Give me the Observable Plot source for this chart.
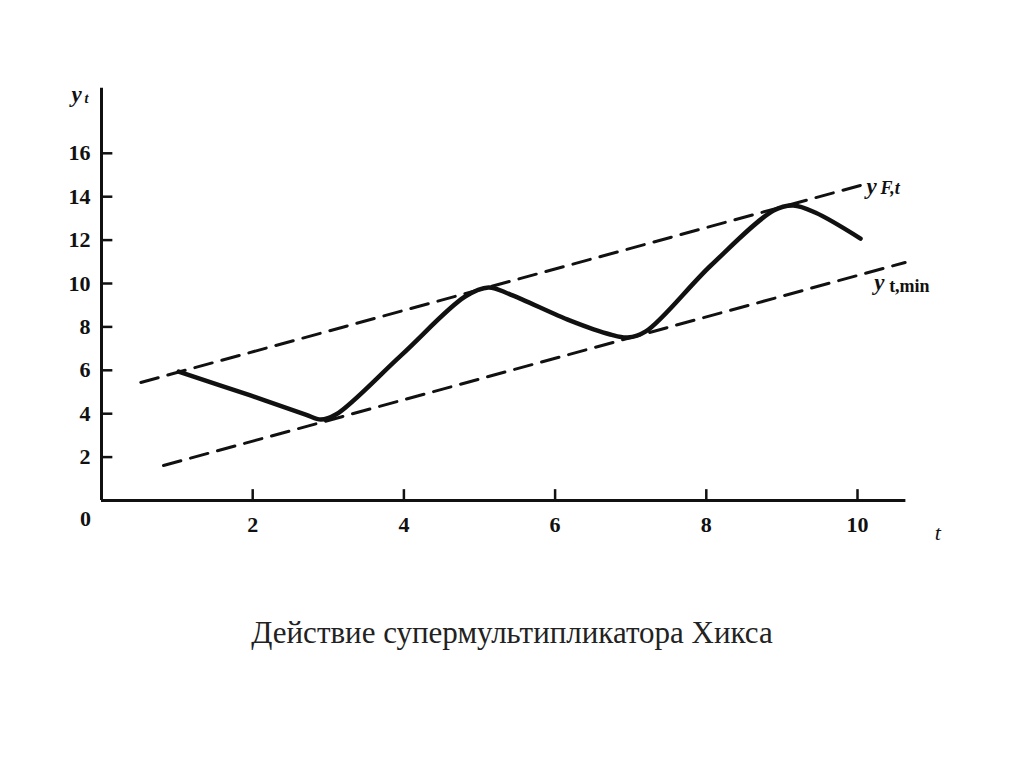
<!DOCTYPE html>
<html>
<head>
<meta charset="utf-8">
<script src="https://cdn.jsdelivr.net/npm/d3@7"></script>
<script src="https://cdn.jsdelivr.net/npm/@observablehq/plot@0.6"></script>
<style>
  html, body { margin: 0; padding: 0; background: #fff; }
  #chart svg { display: block; }
  #caption {
    font-family: "Liberation Serif", "DejaVu Serif", serif;
    font-size: 31px; color: #222; text-align: center;
    margin-top: 25px; width: 1024px;
  }
</style>
</head>
<body>
<div id="chart"></div>
<div id="caption">Действие супермультипликатора Хикса</div>
<script>
// Data
const xTicks = [2, 4, 6, 8, 10];
const yTicks = [2, 4, 6, 8, 10, 12, 14, 16];

// actual output y_t (solid curve)
const curveT = [1.02, 1.97, 2.70, 2.90, 3.10, 3.96, 4.81, 5.12, 5.41, 6.20, 6.73, 6.96, 7.20, 8.06, 8.89, 9.15, 9.44, 10.04];
const curveY = [5.94, 4.84, 3.96, 3.73, 3.96, 6.68, 9.40, 9.82, 9.49, 8.29, 7.65, 7.51, 7.79, 10.83, 13.36, 13.59, 13.27, 12.07];

// full-employment ceiling y_F,t (dashed)
const ceilT = [0.52, 10.08];
const ceilY = [5.44, 14.56];

// floor y_t,min (dashed)
const floorT = [0.82, 10.63];
const floorY = [1.61, 10.97];

const curve = curveT.map((t, i) => ({t, y: curveY[i]}));
const ceil = ceilT.map((t, i) => ({t, y: ceilY[i]}));
const floor = floorT.map((t, i) => ({t, y: floorY[i]}));

const serif = "'Liberation Serif', 'DejaVu Serif', serif";

const chart = Plot.plot({
  width: 1024,
  height: 590,
  marginLeft: 101,
  marginRight: 15.8,
  marginTop: 66,
  marginBottom: 90,
  x: {domain: [0, 12], axis: null},
  y: {domain: [0, 20], axis: null},
  style: {fontFamily: serif, color: "#111", background: "#fff"},
  marks: [
    // axes
    Plot.ruleX([0], {y1: 0, y2: 19, stroke: "#111", strokeWidth: 3}),
    Plot.ruleY([0], {x1: 0, x2: 10.64, stroke: "#111", strokeWidth: 3}),
    // tick marks (inward)
    Plot.ruleY(yTicks, {y: d => d, x1: 0, x2: 0.15, stroke: "#111", strokeWidth: 2.5}),
    Plot.ruleX(xTicks, {x: d => d, y1: 0, y2: 0.5, stroke: "#111", strokeWidth: 2.5}),
    // tick labels
    Plot.text(yTicks, {x: 0, y: d => d, text: d => String(d), textAnchor: "end", dx: -11, fontSize: 22, fontWeight: "bold", fill: "#111"}),
    Plot.text(xTicks, {x: d => d, y: 0, text: d => String(d), dy: 24, fontSize: 22, fontWeight: "bold", fill: "#111"}),
    Plot.text([0], {x: 0, y: 0, text: d => String(d), dx: -16, dy: 18, fontSize: 22, fontWeight: "bold", fill: "#111"}),
    // axis names
    Plot.text(["y"], {x: 0, y: 19, text: d => d, textAnchor: "start", dx: -30, dy: 6, fontSize: 23, fontStyle: "italic", fontWeight: "bold", fill: "#111"}),
    Plot.text(["t"], {x: 0, y: 19, text: d => d, textAnchor: "start", dx: -17, dy: 10, fontSize: 14, fontStyle: "italic", fontWeight: "bold", fill: "#111"}),
    Plot.text(["t"], {x: 10.64, y: 0, text: d => d, dx: 32, dy: 32, fontSize: 22, fontStyle: "italic", fill: "#111"}),
    // dashed bounds
    Plot.line(ceil, {x: "t", y: "y", stroke: "#111", strokeWidth: 3, strokeDasharray: "18,10"}),
    Plot.line(floor, {x: "t", y: "y", stroke: "#111", strokeWidth: 3, strokeDasharray: "18,10"}),
    // actual curve
    Plot.line(curve, {x: "t", y: "y", stroke: "#111", strokeWidth: 4.5, curve: "catmull-rom"}),
    // line labels
    Plot.text([ceil[1]], {x: "t", y: "y", text: () => "y", textAnchor: "start", dx: 3, dy: 2, fontSize: 23, fontStyle: "italic", fontWeight: "bold", fill: "#111"}),
    Plot.text([ceil[1]], {x: "t", y: "y", text: () => "F,t", textAnchor: "start", dx: 17, dy: 4, fontSize: 18, fontStyle: "italic", fontWeight: "bold", letterSpacing: 1, fill: "#111"}),
    Plot.text([floor[1]], {x: "t", y: "y", text: () => "y", textAnchor: "start", dx: -31, dy: 20, fontSize: 23, fontStyle: "italic", fontWeight: "bold", fill: "#111"}),
    Plot.text([floor[1]], {x: "t", y: "y", text: () => "t,min", textAnchor: "start", dx: -16, dy: 24, fontSize: 18, fontWeight: "bold", letterSpacing: 1, fill: "#111"})
  ]
});
document.getElementById("chart").appendChild(chart);
</script>
</body>
</html>
